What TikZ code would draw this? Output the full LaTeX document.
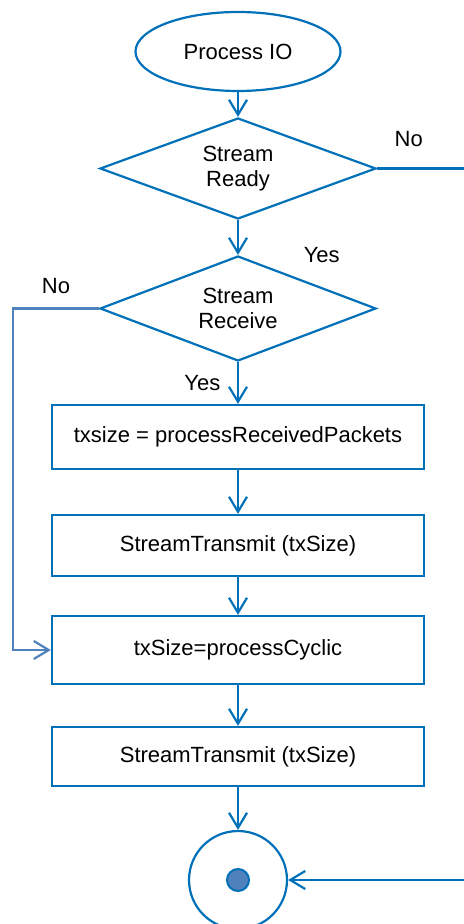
\documentclass[tikz,border=0pt]{standalone}
\usepackage{fontspec}
\setmainfont{Liberation Sans}
\definecolor{main}{RGB}{0, 112, 184}
\definecolor{soft}{RGB}{79, 129, 189}
\usetikzlibrary{shapes.geometric, arrows.meta, positioning}

\begin{document}
\begin{tikzpicture}[x=0.5pt, y=-0.5pt, node distance=21pt,
    every node/.style={font=\fontsize{11}{12.5}\selectfont, align=center, text=black},
    box/.style={draw=main, line width=1.1pt, minimum width=186pt, minimum height=32pt},
    decision/.style={draw=main, line width=1.1pt, diamond, aspect=2.7, inner sep=0pt, minimum width=138pt, minimum height=51.5pt},
    flow/.style={-{Straight Barb[length=7.5pt, width=9pt]}, line width=1.1pt, main}]
    \path[use as bounding box, clip] (0,0) rectangle (464,924);
    \node[draw=main, line width=1.1pt, ellipse, minimum width=102.5pt, minimum height=39.5pt] (start) at (238,51.5) {Process IO};
    \node[decision, minimum height=50.5pt, below=12.4pt of start] (ready) {Stream\\Ready};
    \node[decision, minimum height=52.5pt, below=17.4pt of ready] (receive) {Stream\\Receive};
    \node[box, below=20.9pt of receive] (packets) {txsize = processReceivedPackets};
    \node[box, minimum height=30.5pt, below=21.9pt of packets] (send1) {StreamTransmit (txSize)};
    \node[box, minimum height=34pt, below=18.9pt of send1] (cyclic) {txSize=processCyclic};
    \node[box, minimum height=29.5pt, below=20.4pt of cyclic] (send2) {StreamTransmit (txSize)};
    \node[draw=main, line width=1.1pt, circle, minimum size=49pt, below=21.4pt of send2] (stop) {};
    \node[circle, fill=soft, draw=main, line width=1pt, minimum size=11pt, inner sep=0pt] (dot) at (stop) {};
    % bend points of the two side loops
    \coordinate (edge) at (490,0);
    \coordinate (bypass) at (13,0);
    \draw[flow] (start) -- (ready);
    \draw[flow] (ready) -- node[pos=1, right=29pt]{Yes} (receive);
    \draw[flow] (receive) -- node[left=5pt]{Yes} (packets);
    \draw[flow] (packets) -- (send1);
    \draw[flow] (send1) -- (cyclic);
    \draw[flow] (cyclic) -- (send2);
    \draw[flow] (send2) -- (stop);
    \draw[flow] (ready.east) -- node[pos=0.28, above=7pt]{No} (ready.east -| edge) |- (stop.east);
    \draw[flow, soft] (receive.west) -- node[above=3.5pt]{No} (receive.west -| bypass) |- (cyclic.west);
\end{tikzpicture}
\end{document}
